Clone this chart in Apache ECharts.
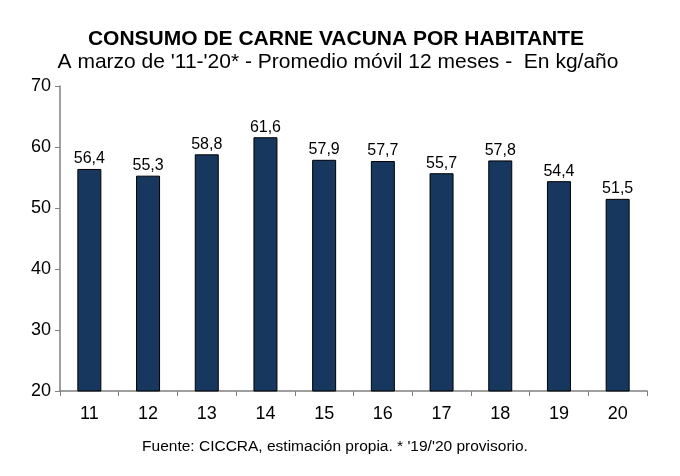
<!DOCTYPE html>
<html>
<head>
<meta charset="utf-8">
<script src="https://cdn.jsdelivr.net/npm/echarts@6/dist/echarts.min.js"></script>
<style>
  html, body { margin: 0; padding: 0; background: #fff; }
  #main { width: 680px; height: 476px; }
</style>
</head>
<body>
<div id="main"></div>
<script>
var years = ['11', '12', '13', '14', '15', '16', '17', '18', '19', '20'];
var consumo = [56.4, 55.3, 58.8, 61.6, 57.9, 57.7, 55.7, 57.8, 54.4, 51.5];

var chart = echarts.init(document.getElementById('main'));
var font = '"Liberation Sans", Arial, sans-serif';

var option = {
    animation: false,
    title: [
        {
            text: 'CONSUMO DE CARNE VACUNA POR HABITANTE',
            left: 331,
            top: 24,
            textAlign: 'center',
            textStyle: { fontFamily: font, fontSize: 21, fontWeight: 'bold', color: '#000' }
        },
        {
            text: "A marzo de '11-'20* - Promedio móvil 12 meses -  En kg/año",
            left: 333,
            top: 47,
            textAlign: 'center',
            textStyle: { fontFamily: font, fontSize: 21, fontWeight: 'normal', color: '#000' }
        },
        {
            text: "Fuente: CICCRA, estimación propia. * '19/'20 provisorio.",
            left: 330,
            top: 434,
            textAlign: 'center',
            textStyle: { fontFamily: font, fontSize: 15.5, fontWeight: 'normal', color: '#000' }
        }
    ],
    grid: { left: 60, right: 33, top: 86, bottom: 85 },
    xAxis: {
        type: 'category',
        data: years,
        axisLine: { lineStyle: { color: '#808080', width: 1.5 } },
        axisTick: { show: true, length: 5, lineStyle: { color: '#808080' } },
        axisLabel: { fontFamily: font, fontSize: 18, color: '#000', margin: 14 }
    },
    yAxis: {
        type: 'value',
        min: 20,
        max: 70,
        interval: 10,
        splitLine: { show: false },
        axisLine: { show: true, lineStyle: { color: '#808080', width: 1.5 } },
        axisTick: { show: true, length: 5, lineStyle: { color: '#808080' } },
        axisLabel: { fontFamily: font, fontSize: 18, color: '#000', margin: 9 }
    },
    series: [
        {
            type: 'bar',
            data: consumo,
            barWidth: 24,
            itemStyle: { color: '#17375E', borderColor: '#000', borderWidth: 1 },
            label: {
                show: true,
                position: 'top',
                distance: 2,
                fontFamily: font,
                fontSize: 16,
                color: '#000',
                formatter: function (p) {
                    return p.value.toFixed(1).replace('.', ',');
                }
            }
        }
    ]
};

chart.setOption(option);
</script>
</body>
</html>
